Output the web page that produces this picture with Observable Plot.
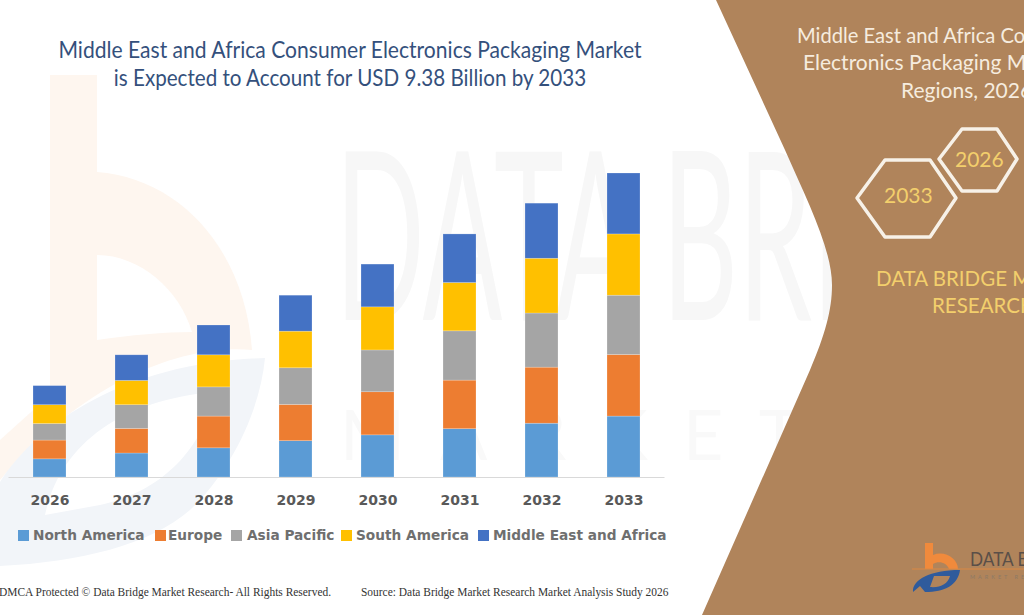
<!DOCTYPE html>
<html>
<head>
<meta charset="utf-8">
<script src="https://cdn.jsdelivr.net/npm/d3@7"></script>
<script src="https://cdn.jsdelivr.net/npm/@observablehq/plot@0.6"></script>
<style>
html,body{margin:0;padding:0;background:#fff;}
#page{position:relative;width:1024px;height:615px;overflow:hidden;background:#fff;}
#page>svg{position:absolute;left:0;top:0;}
.t{position:absolute;white-space:nowrap;}
.ttl{font:22.5px/28px Lato,sans-serif;color:#34507c;left:0;width:700px;text-align:center;}
.panel{font:21px/27.5px Lato,sans-serif;color:#f6ecdf;}
.gold{color:#f3cf6c;font-size:20.5px;}
.hex{font:21px Lato,sans-serif;color:#f3cf6c;}
.lg{font:bold 13.7px/18px "DejaVu Sans",sans-serif;color:#6f6f6f;top:526px;}
.sw{position:absolute;width:11px;height:11px;top:530px;}
.ft{font:11.45px "Liberation Serif",serif;color:#333;top:586px;}
</style>
</head>
<body>
<div id="page">
<svg id="decor" width="1024" height="615" viewBox="0 0 1024 615">
  <path fill-rule="evenodd" fill="#fef6ef" d="M50 75H97V172C180 178 245 250 252 350C200 345 100 365 0 480V440L50 395Z M97 255V340C130 335 165 332 192 332C180 290 140 255 97 255Z"/>
  <path fill-rule="evenodd" fill="#f2f5f9" d="M0 482C40 420 130 362 265 358C260 410 232 470 190 510C150 545 80 562 0 566Z M45 515C60 445 120 400 215 392C205 440 170 490 100 505Z"/>
  <text x="335" y="320" font-family="Lato" font-size="235" fill="#f7f7f7" textLength="510" lengthAdjust="spacingAndGlyphs">DATA BRI</text>
  <text x="340" y="460" font-family="Lato" font-size="70" fill="#f9f9f9" textLength="460" lengthAdjust="spacing">MARKET</text>
  <path d="M716 0L785 150C808 202 832 250 832 285C832 310 825 335 810 370L702 615L1024 615L1024 0Z" fill="#b0845b"/>
  <g fill="none" stroke="#f7f1e8" stroke-width="3.5" stroke-linejoin="round">
    <path d="M857 198L885 160L930 160L956 198L930 237L885 237Z"/>
    <path d="M939 159L962 129L997 129L1017 159L997 191L962 191Z"/>
  </g>
  <path d="M925 543h8v12c12-5 25 4 25 14h-9c-2-6-10-9-16-5v5h-8z" fill="#f08a3c"/>
  <path d="M912 569H1024" stroke="#d98845" stroke-width="1.2"/>
  <path fill-rule="evenodd" fill="#2f5b9c" d="M913 592C912 580 930 570 960 570C958 585 945 592 925 592L920 586ZM934 576L930 587C940 588 948 584 950 576Z"/>
  <text transform="translate(970,566) scale(.86,1)" font-family="Lato" font-size="20" fill="#5a4f48">DATA BRIDGE</text>
  <text x="970" y="579" font-family="Lato" font-size="5.5" letter-spacing="3" fill="#8d7a66">MARKET RESEARCH</text>
</svg>
</div>
<script>
const years = ["2026","2027","2028","2029","2030","2031","2032","2033"];
const regions = ["North America","Europe","Asia Pacific","South America","Middle East and Africa"];
const colors = ["#5b9bd5","#ed7d31","#a5a5a5","#ffc000","#4472c4"];
const northAmerica = [0.56,0.74,0.90,1.12,1.30,1.49,1.66,1.88];
const europe       = [0.58,0.76,0.98,1.12,1.33,1.50,1.73,1.90];
const asiaPacific  = [0.51,0.73,0.90,1.13,1.29,1.52,1.67,1.83];
const southAmerica = [0.58,0.75,0.99,1.13,1.33,1.49,1.69,1.89];
const middleEast   = [0.59,0.79,0.92,1.11,1.32,1.50,1.70,1.88];
const series = [northAmerica,europe,asiaPacific,southAmerica,middleEast];
const titleLines = ["Middle East and Africa Consumer Electronics Packaging Market","is Expected to Account for USD 9.38 Billion by 2033"];

const rows = regions.flatMap((r,i)=>years.map((y,j)=>({year:y,region:r,value:series[i][j]})));

const chart = Plot.plot({
  width:1024,height:615,
  marginLeft:8.5,marginRight:359.5,marginBottom:138,marginTop:173,
  style:{background:"transparent",overflow:"visible"},
  x:{domain:years,paddingInner:0.6,paddingOuter:0.3,label:null},
  y:{domain:[0,9.38],axis:null},
  color:{domain:regions,range:colors},
  marks:[
    Plot.barY(rows,{x:"year",y:"value",fill:"region",order:regions,stroke:"#fff",strokeOpacity:0.35,strokeWidth:0.6}),
    Plot.ruleY([0],{stroke:"#d9d9d9",strokeWidth:1.2}),
    Plot.axisX({tickSize:0,tickPadding:18,label:null,fontSize:14,fontWeight:"bold",fontFamily:"DejaVu Sans",fill:"#595959"})
  ]
});
const page=document.getElementById("page");
page.appendChild(chart);

function add(cls,text,style){const d=document.createElement("div");d.className="t "+cls;d.textContent=text;Object.assign(d.style,style||{});page.appendChild(d);return d;}
add("ttl",titleLines[0],{top:"36px",transform:"scaleX(0.937)"});
add("ttl",titleLines[1],{top:"64px",transform:"scaleX(0.916)"});
add("panel","Middle East and Africa Consumer",{left:"797px",top:"21px",transformOrigin:"left",transform:"scaleX(0.96)"});
add("panel","Electronics Packaging Market",{left:"803px",top:"48px"});
add("panel","Regions, 2026",{left:"901px",top:"76px"});
add("hex","2033",{left:"884px",top:"182px"});
add("hex","2026",{left:"955px",top:"146px"});
add("panel gold","DATA BRIDGE MARKET",{left:"876px",top:"265px"});
add("panel gold","RESEARCH",{left:"932px",top:"292px"});

const legendX=[[18,33],[155,168],[231,247],[341,356],[478,493]];
regions.forEach((r,i)=>{
  add("sw","",{left:legendX[i][0]+"px",background:colors[i]});
  add("lg",r,{left:legendX[i][1]+"px"});
});
add("ft","DMCA Protected © Data Bridge Market Research-  All Rights Reserved.",{left:"-1px"});
add("ft","Source: Data Bridge Market Research  Market Analysis Study 2026",{left:"361px"});
</script>
</body>
</html>
